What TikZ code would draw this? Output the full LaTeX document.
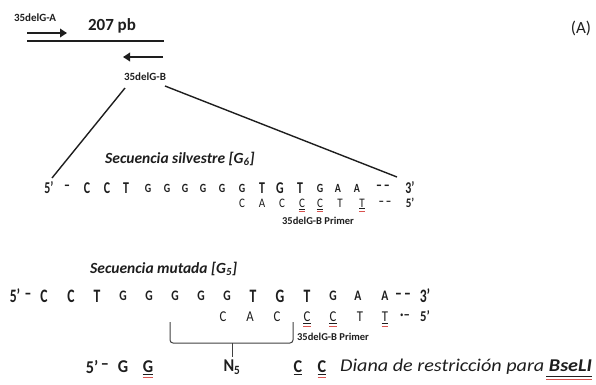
\documentclass[tikz,border=0pt]{standalone}
\usepackage{fontspec}
\setmainfont{Carlito}
\usepackage{graphicx}
\usetikzlibrary{arrows.meta,calc}
\definecolor{ink}{HTML}{1E1E1E}
\definecolor{sq}{HTML}{D9534F}
\newcommand{\fsz}[1]{\fontsize{#1}{#1}\selectfont}
% row 1 (silvestre)
\newcommand{\Ba}[1]{\scalebox{0.72}[1]{\fsz{16.5}\bfseries #1}}
\newcommand{\Sa}[1]{\scalebox{0.8}[1]{\fsz{12.5}\bfseries #1}}
\newcommand{\Ma}[1]{\scalebox{0.85}[1]{\fsz{13}#1}}
% row 3 (mutada)
\newcommand{\Bb}[1]{\scalebox{0.72}[1]{\fsz{19}\bfseries #1}}
\newcommand{\Sb}[1]{\scalebox{0.8}[1]{\fsz{14.5}\bfseries #1}}
\newcommand{\Mb}[1]{\scalebox{0.85}[1]{\fsz{15}#1}}
% bottom row
\newcommand{\Bc}[1]{\scalebox{0.9}[1]{\fsz{18}\bfseries #1}}
\begin{document}
\begin{tikzpicture}[x=1pt,y=-1pt,
  every node/.style={inner sep=0pt,text=ink},
  thickline/.style={line width=2.8pt,draw=ink},
  fatarrow/.style={line width=2.8pt,draw=ink,-{Triangle[length=7pt,width=8.5pt]}},
  linkline/.style={line width=1.4pt,draw=ink},
  bracestyle/.style={line width=1pt,draw=ink!85,rounded corners=3pt},
  ulk/.style={line width=0.8pt,draw=ink},
  ulr/.style={line width=0.8pt,draw=sq},
  tinylabel/.style={font=\fsz{11}\bfseries},
  primerlabel/.style={font=\fsz{10.5}\bfseries},
  seqtitle/.style={font=\fsz{15.5}\bfseries\itshape,anchor=west}]
\useasboundingbox (0,0) rectangle (596,384);

% ---------- top amplicon ----------
\node[tinylabel] (lblA) at (35,18) {35delG-A};
\node[font=\fsz{17}\bfseries] (bp) at (112,26) {207 pb};
\node[font=\fsz{17}] (panel) at (581,28) {(A)};
\node[tinylabel] (lblB) at (145,77) {35delG-B};
\draw[fatarrow] (27,33) -- (67,33);
\draw[thickline] (27,41) -- (164,41);
\draw[fatarrow] (163,57) -- (123,57);

% ---------- wild type ----------
\node[seqtitle] (t1) at (105,159) {Secuencia silvestre [G\textsubscript{6}]};
\node (r1p) at (49,188) {\Ba{5'}};
\node (r1d) at (67,188) {\Ba{–}};
\foreach \x/\l/\f [count=\i] in {87/C/\Ba,107/C/\Ba,126/T/\Ba,148/G/\Sa,167/G/\Sa,185/G/\Sa,203/G/\Sa,222/G/\Sa,242/G/\Sa,262/T/\Ba,280/G/\Ba,300/T/\Ba,320/G/\Sa,338/A/\Sa,357/A/\Sa}
  \node (r1n\i) at (\x,188) {\f{\l}};
\node (r1e) at (383,188) {\Ba{–\,–}};
\node (r1q) at (410,188) {\Ba{3'}};

\foreach \x/\l [count=\i] in {242/C,262/A,282/C,302/C,320/C,340/T,362/T}
  \node (r2n\i) at (\x,203) {\Ma{\l}};
\node (r2e) at (385,203) {\Ma{\textbf{–\,–}}};
\node (r2q) at (410,203) {\Ma{\textbf{5'}}};
\node[primerlabel] (p1) at (318,221) {35delG-B Primer};

\foreach \n in {r2n4,r2n5,r2n7} {
  \draw[ulk] ($(\n.south west)+(0,1.5)$) -- ($(\n.south east)+(0,1.5)$);
  \draw[ulr] ($(\n.south west)+(0,4)$) -- ($(\n.south east)+(0,4)$);
}

% links from primer B to the wild-type sequence
\coordinate (la) at (125,88);
\coordinate (lb) at (52,178);
\coordinate (ra) at (165,86);
\coordinate (rb) at (397,177);
\draw[linkline] (la) -- (lb);
\draw[linkline] (ra) -- (rb);

% ---------- mutated ----------
\node[seqtitle] (t2) at (90,269) {Secuencia mutada [G\textsubscript{5}]};
\node (r3p) at (15,296) {\Bb{5'}};
\node (r3d) at (28,296) {\Bb{–}};
\foreach \x/\l/\f [count=\i] in {44/C/\Bb,71/C/\Bb,97/T/\Bb,123/G/\Sb,149/G/\Sb,175/G/\Sb,201/G/\Sb,227/G/\Sb,253/T/\Bb,280/G/\Bb,307/T/\Bb,333/G/\Sb,358/A/\Sb,385/A/\Sb}
  \node (r3n\i) at (\x,296) {\f{\l}};
\node (r3e) at (403,296) {\Bb{–\,–}};
\node (r3q) at (425,296) {\Bb{3'}};

\foreach \x/\l [count=\i] in {223/C,250/A,277/C,307/C,333/C,360/T,385/T}
  \node (r4n\i) at (\x,317) {\Mb{\l}};
\node (r4e) at (405,317) {\Mb{\textbf{·–}}};
\node (r4q) at (425,316) {\Mb{\textbf{5'}}};
\node[primerlabel] (p2) at (333,337) {35delG-B Primer};

\foreach \n in {r4n4,r4n5,r4n7} {
  \draw[ulk] ($(\n.south west)+(0,1.5)$) -- ($(\n.south east)+(0,1.5)$);
  \draw[ulr] ($(\n.south west)+(0,4)$) -- ($(\n.south east)+(0,4)$);
}

% brace
\draw[bracestyle] (170,322) -- (170,343) -- (293,343) -- (293,322);
\coordinate (bstem) at (232,343);

% ---------- bottom row ----------
\node (bp5) at (92,367) {\Bc{5'}};
\node (bpd) at (105,367) {\Bc{–}};
\node (bg1) at (123,367) {\Bc{G}};
\node (bg2) at (148,367) {\Bc{G}};
\node (n5) at (232,367) {\Bc{N\textsubscript{5}}};
\node (bc1) at (298,367) {\Bc{C}};
\node (bc2) at (322,367) {\Bc{C}};
\node[anchor=west] (diana) at (340,367) {\scalebox{1.12}[1]{\fsz{18}\itshape Diana de restricción para \textbf{BseLI}}};
\draw[line width=1pt,draw=ink!85,shorten >=3pt] (bstem) -- (n5.north);

\foreach \n in {bg2,bc1,bc2} {
  \draw[ulk] ($(\n.south west)+(0,1.5)$) -- ($(\n.south east)+(0,1.5)$);
}
\foreach \n in {bg2,bc2} {
  \draw[ulr] ($(\n.south west)+(0,4)$) -- ($(\n.south east)+(0,4)$);
}
\draw[ulk] ($(diana.south east)+(-46,1.5)$) -- ($(diana.south east)+(0,1.5)$);
\draw[ulr] ($(diana.south east)+(-46,4)$) -- ($(diana.south east)+(0,4)$);
\end{tikzpicture}
\end{document}
